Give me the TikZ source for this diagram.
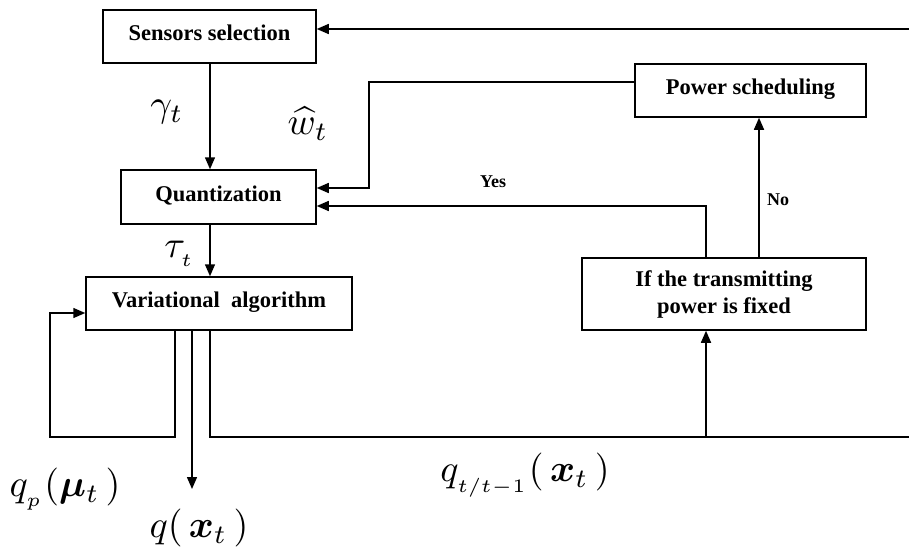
\documentclass[tikz,border=0pt]{standalone}
\usepackage{amsmath,bm}
\usepackage{fontspec}
\setmainfont{Liberation Serif}
\usetikzlibrary{arrows.meta}
\tikzset{
  box/.style={draw, line width=1.5pt, inner sep=0pt, font=\fontsize{22.5}{27}\selectfont\bfseries},
  onebox/.style={box, text height=16pt, text depth=8pt},
  arr/.style={line width=1.5pt, -{Triangle[length=12pt,width=10pt]}},
  wire/.style={line width=1.5pt},
  lab/.style={font=\fontsize{18}{20}\selectfont\bfseries},
  mlab/.style={scale=3.8, inner sep=0pt}
}
\begin{document}
\begin{tikzpicture}[x=1pt,y=-1pt]
\useasboundingbox (0,0) rectangle (909,549);
\node[onebox, minimum width=213pt, minimum height=53pt] (ss) at (209.5,36.5) {Sensors selection};
\node[onebox, minimum width=195pt, minimum height=54pt] (qz) at (218.5,197) {Quantization};
\node[onebox, minimum width=266pt, minimum height=53pt] (va) at (219,303.5) {Variational\ \ algorithm};
\node[onebox, minimum width=231pt, minimum height=53pt] (ps) at (750.5,90.5) {Power scheduling};
\node[box, minimum width=284pt, minimum height=72pt, align=center] (ifb) at (724,294) {If the transmitting\\power is fixed};

\coordinate (rt) at (909,29);
\coordinate (rb) at (909,437);
\coordinate (out) at (192,489);

\draw[arr] (rt) -- (rt -| ss.east);
\draw[arr] (ss.south -| 210,0) -- (qz.north -| 210,0);
\draw[arr] (ps.west |- 0,82) -- (369,82) -- (369,188) -- (qz.east |- 0,188);
\draw[arr] (ifb.north -| 706,0) -- (706,206) -- (qz.east |- 0,206);
\draw[arr] (ifb.north -| 759,0) -- (ps.south -| 759,0);
\draw[arr] (qz.south -| 210,0) -- (va.north -| 210,0);
\draw[arr] (va.south -| 175,0) -- (175,437) -- (50,437) -- (50,313) -- (va.west |- 0,313);
\draw[arr] (va.south -| 192,0) -- (out);
\draw[wire] (va.south -| 210,0) -- (210,437) -- (rb);
\draw[arr] (706,437) -- (ifb.south -| 706,0);

\node[lab] (yes) at (493,182) {Yes};
\node[lab] (no) at (778,200) {No};

\node[mlab] (gam) at (167,112) {$\gamma_t$};
\node[mlab] (wt) at (308,124) {$\widehat{w}_t$};
\node[mlab] (tau) at (180,254) {$\tau_{_t}$};
\node[mlab] (qp) at (65,489) {$q_{_p}(\bm{\mu}_{t}\,)$};
\node[mlab] (qx) at (199,528) {$q(\,\bm{x}_t\,)$};
\node[mlab] (qtt) at (525,475) {$q_{_{t/t-1}}(\,\bm{x}_t\,)$};
\end{tikzpicture}
\end{document}
